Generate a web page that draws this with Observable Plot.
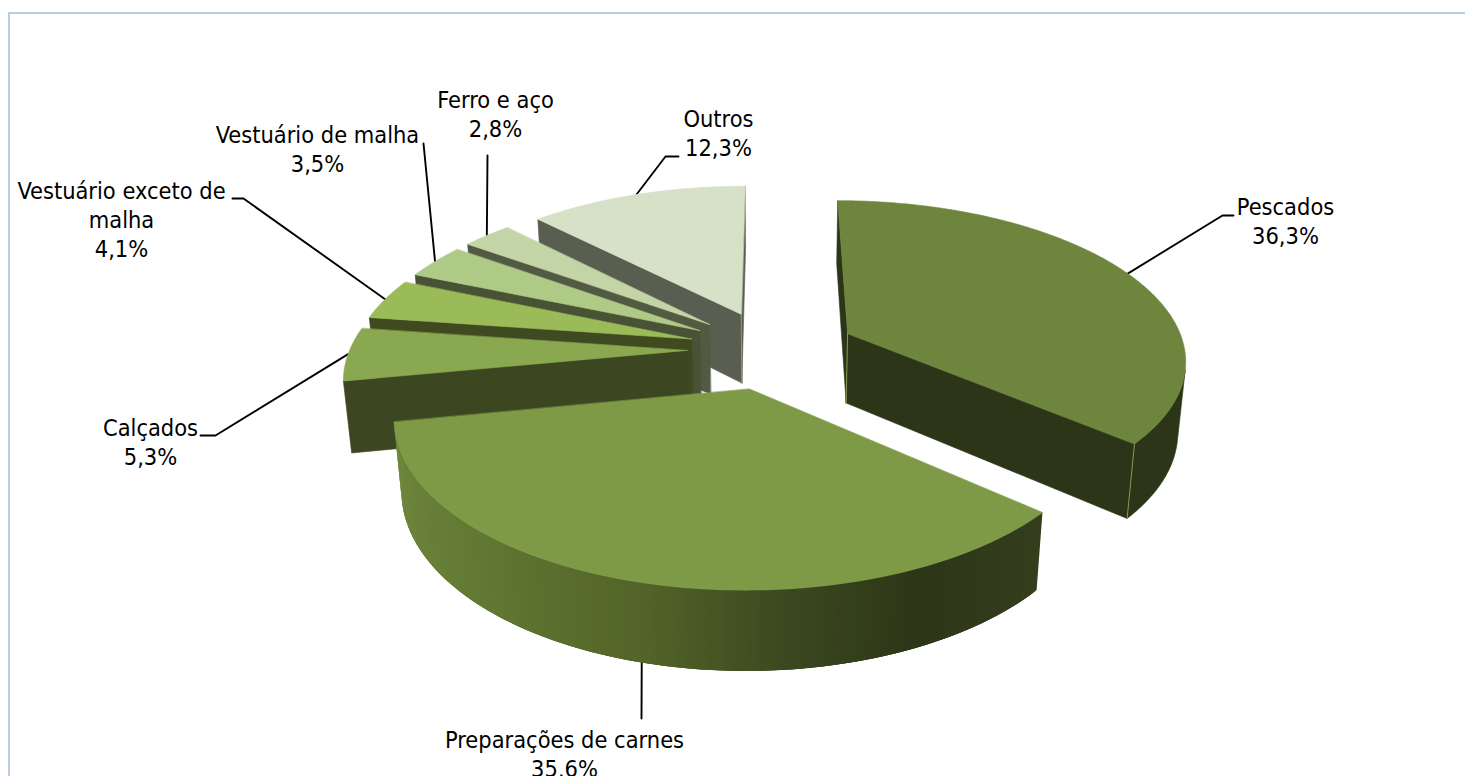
<!DOCTYPE html>
<html>
<head>
<meta charset="utf-8">
<script src="https://cdn.jsdelivr.net/npm/d3@7"></script>
<script src="https://cdn.jsdelivr.net/npm/@observablehq/plot@0.6"></script>
<style>
html,body{margin:0;padding:0;background:#fff;overflow:hidden}
svg{display:block}
</style>
</head>
<body>
<div id="chart"></div>
<script>
// ---- data
const categories = ["Pescados","Preparações de carnes","Calçados","Vestuário exceto de\nmalha","Vestuário de malha","Ferro e aço","Outros"];
const values = [36.3,35.6,5.3,4.1,3.5,2.8,12.3];

// ---- styles
const topColors  = ["#6E853E","#7E9A47","#8AA84F","#9BBB59","#AFC987","#C3D5A6","#D7E1C7"];
const sideColors = ["#2C3517","#3A4520","#3C4620","#3F4A20","#4A5236","#525A42","#5A5E50"];
const preparedWall = {angles:[130,155,175,195,225,260], colors:["#353E1D","#2D3617","#3C4920","#536529","#637A35","#72893F"]};
const edgeColor = "#8DA654";
const W = 1465, H = 776;

// ---- camera (disc of radius 1, exploded, seen in perspective)
const cam = {f:1972, D:5.84, c:0.885, s:0.466, cx:771.5, cy:349, explode:0.25, h:0.24};
const project = (X,Y,Z) => {
  const d = cam.D + cam.c*Y - cam.s*Z;
  return {x: cam.cx + cam.f*X/d, y: cam.cy - cam.f*(cam.s*Y + cam.c*Z)/d};
};
const eye = [0, -cam.D*cam.c, cam.D*cam.s];
const facing = (n,P) => n[0]*(eye[0]-P[0]) + n[1]*(eye[1]-P[1]) + n[2]*(eye[2]-P[2]) > 0;

// ---- slices from the values
const total = d3.sum(values);
let acc = 0;
const slices = values.map((v,i) => {
  const a0 = acc/total*2*Math.PI; acc += v; const a1 = acc/total*2*Math.PI;
  const m = (a0+a1)/2;
  return {i, a0, a1, m, ox: cam.explode*Math.sin(m), oy: cam.explode*Math.cos(m)};
});
const rim = (s,a,z) => project(s.ox+Math.sin(a), s.oy+Math.cos(a), z);
const apex = (s,z) => project(s.ox, s.oy, z);

const polys = []; const edges = [];
let pid = 0;
const addPoly = (pts,color,line=color) => { const id = pid++; pts.forEach(p => polys.push({id,x:p.x,y:p.y,color,line})); };
const wallShade = d3.scaleLinear().domain(preparedWall.angles).range(preparedWall.colors).interpolate(d3.interpolateRgb);
const step = Math.PI/360;
const order = [6,5,4,3,2,0,1];
for (const i of order) {
  const s = slices[i], h = cam.h, side = sideColors[i];
  const nStart = [-Math.cos(s.a0), Math.sin(s.a0), 0];
  const nEnd = [Math.cos(s.a1), -Math.sin(s.a1), 0];
  const P = [s.ox,s.oy,0];
  const startVisible = facing(nStart,P), endVisible = facing(nEnd,P);
  if (startVisible) addPoly([apex(s,0),rim(s,s.a0,0),rim(s,s.a0,-h),apex(s,-h)], side);
  if (endVisible) addPoly([apex(s,0),rim(s,s.a1,0),rim(s,s.a1,-h),apex(s,-h)], side);
  const n = Math.max(2,Math.ceil((s.a1-s.a0)/step));
  const angles = d3.range(n+1).map(k => s.a0 + (s.a1-s.a0)*k/n);
  const vis = angles.slice(0,n).map((a0,k) => {
    const a = (a0+angles[k+1])/2;
    return facing([Math.sin(a),Math.cos(a),0],[s.ox+Math.sin(a),s.oy+Math.cos(a),0]);
  });
  if (i === 1) {
    // shaded wall: each strip runs a little under the next, so no seam shows
    for (let k=0;k<n;k++) if (vis[k]) {
      const a = (angles[k]+angles[k+1])/2, next = angles[Math.min(n,k+3)];
      addPoly([rim(s,angles[k],0),rim(s,next,0),rim(s,next,-h),rim(s,angles[k],-h)], wallShade(a*180/Math.PI), "none");
    }
  } else {
    const seen = angles.filter((a,k) => vis[Math.min(k,n-1)] || (k>0 && vis[k-1]));
    if (seen.length > 1) addPoly([...seen.map(a=>rim(s,a,0)), ...seen.slice().reverse().map(a=>rim(s,a,-h))], side);
  }
  addPoly([apex(s,0), ...angles.map(a=>rim(s,a,0))], topColors[i]);
  const eid = () => "e"+(pid++);
  if (startVisible && vis[0]) { const e=eid(); edges.push({e,...rim(s,s.a0,0)},{e,...rim(s,s.a0,-h)}); }
  if (endVisible && vis[n-1]) { const e=eid(); edges.push({e,...rim(s,s.a1,0)},{e,...rim(s,s.a1,-h)}); }
  if (startVisible && endVisible) { const e=eid(); edges.push({e,...apex(s,0)},{e,...apex(s,-h)}); }
}

// ---- label layout (block centre, elbows of the leader)
const labelX = [1285,564,150,121,317,495,718];
const labelY = [219.5,753,440.5,218,147.5,112.5,131.5];
const elbows = [
  [[1222,215],[1233,215]],
  [[641,718]],
  [[215,435],[200,435]],
  [[243,198],[232,198]],
  [[423,143]],
  [[487,155]],
  [[665,156],[678,156]]
];
const leaderOnBottom = [false,true,false,false,false,false,false];
const leaders = [];
slices.forEach((s,i) => {
  const p = rim(s,s.m,leaderOnBottom[i] ? -cam.h : 0);
  leaders.push({i,x:p.x,y:p.y});
  elbows[i].forEach(([x,y]) => leaders.push({i,x,y}));
});
const fmt = v => v.toFixed(1).replace(".",",")+"%";
const labels = categories.map((c,i) => ({text:c+"\n"+fmt(values[i]),x:labelX[i],y:labelY[i]}));

const fontSize = 23.4;
const chart = Plot.plot({
  width:W, height:H, margin:0,
  x:{domain:[0,W],range:[0,W],axis:null},
  y:{domain:[0,H],range:[0,H],axis:null},
  style:{fontFamily:"'DejaVu Sans',sans-serif",fontStretch:"condensed",background:"#fff"},
  marks:[
    Plot.ruleY([12.5],{x1:8,x2:W,stroke:"#B9CDE5",strokeWidth:2}),
    Plot.ruleX([8.5],{y1:12,y2:H,stroke:"#B9CDE5",strokeWidth:2}),
    Plot.line(leaders,{x:"x",y:"y",z:"i",stroke:"#000",strokeWidth:1.9,curve:"linear"}),
    Plot.line(polys,{x:"x",y:"y",z:"id",fill:"color",stroke:"line",strokeWidth:0.6,curve:"linear-closed"}),
    Plot.line(edges,{x:"x",y:"y",z:"e",stroke:edgeColor,strokeWidth:0.9}),
    Plot.text(labels,{x:"x",y:"y",text:"text",fontSize,lineHeight:29/fontSize,fill:"#000",textAnchor:"middle",lineAnchor:"middle"})
  ]
});
document.getElementById("chart").append(chart);
</script>
</body>
</html>
